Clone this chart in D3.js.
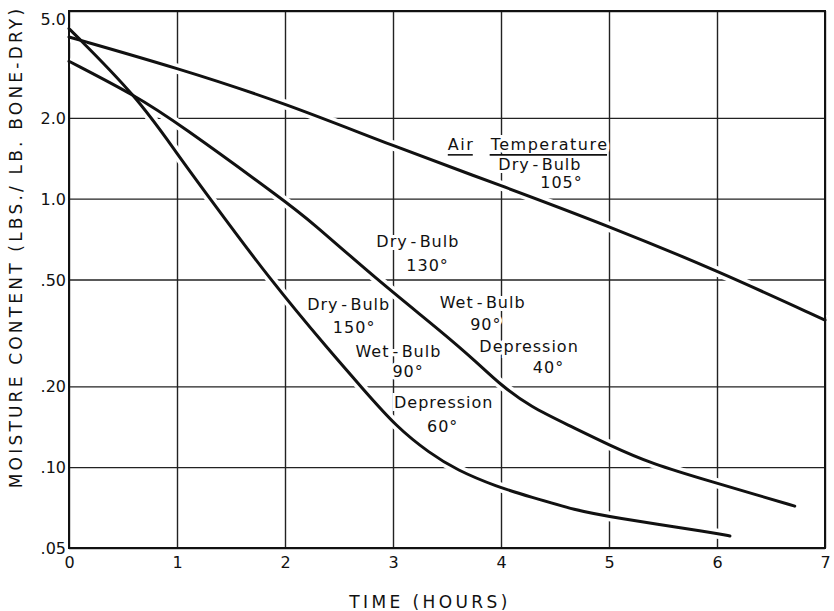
<!DOCTYPE html>
<html lang="en">
<head>
<meta charset="utf-8">
<title>Moisture content vs drying time</title>
<script src="https://cdn.jsdelivr.net/npm/d3@7"></script>
<style>
  body { margin: 0; background: #fff; }
  text { font-family: "DejaVu Sans", sans-serif; fill: #111; }
</style>
</head>
<body>
<div id="chart"></div>
<script>
// ticks
const hours = [0, 1, 2, 3, 4, 5, 6, 7];
const moistTicks = [5, 2, 1, 0.5, 0.2, 0.1, 0.05];
const moistLabels = ["5.0", "2.0", "1.0", ".50", ".20", ".10", ".05"];

// dry-bulb 105
const t105 = [0, 1, 2, 3, 4, 5, 6, 7];
const m105 = [4.0, 3.07, 2.27, 1.57, 1.12, 0.79, 0.54, 0.353];
// dry-bulb 130, wet-bulb 90
const t130 = [0, 0.63, 1, 2, 2.23, 2.85, 3.47, 3.78, 4.0, 4.27, 4.64, 5, 5.38, 6, 6.37, 6.72];
const m130 = [3.25, 2.4, 1.92, 0.98, 0.83, 0.5, 0.315, 0.245, 0.202, 0.168, 0.1424, 0.121, 0.1033, 0.0871, 0.0788, 0.0716];
// dry-bulb 150, wet-bulb 90
const t150 = [0, 0.63, 1, 1.29, 1.86, 2.42, 2.73, 3.03, 3.34, 3.59, 3.96, 4.27, 4.7, 5, 6, 6.12];
const m150 = [4.3, 2.4, 1.47, 1.02, 0.5, 0.269, 0.194, 0.1415, 0.1127, 0.0976, 0.0846, 0.0776, 0.069, 0.0654, 0.0567, 0.0554];

// annotations [text, t, m]
const notes = [
  ["Dry-Bulb", 4.36, 1.28], ["105°", 4.56, 1.10],
  ["Dry-Bulb", 3.23, 0.66], ["130°", 3.32, 0.54],
  ["Wet-Bulb", 3.83, 0.39], ["90°", 3.86, 0.324],
  ["Depression", 4.26, 0.268], ["40°", 4.44, 0.224],
  ["Dry-Bulb", 2.59, 0.385], ["150°", 2.64, 0.316],
  ["Wet-Bulb", 3.05, 0.257], ["90°", 3.14, 0.217],
  ["Depression", 3.47, 0.166], ["60°", 3.46, 0.135]
];
const heading = [["Air", 3.63, 1.52], ["Temperature", 4.45, 1.52]];

let w = 834;
let h = 611;
let mLeft = 69, mRight = 825, mTop = 11, mBottom = 548;

let xScale = d3.scaleLinear().domain([0, 7]).range([mLeft, mRight]);
let yScale = d3.scaleLog().domain([0.05, 5]).range([mBottom, mTop]);

let svg = d3.select("#chart")
  .append("svg")
  .attr("width", w)
  .attr("height", h);

// grid
svg.append("g")
  .attr("class", "grid")
  .attr("transform", "translate(0," + mBottom + ")")
  .call(d3.axisBottom(xScale).tickValues(hours).tickSize(-(mBottom - mTop)).tickFormat(""))
  .call(g => g.select(".domain").remove())
  .call(g => g.selectAll("line").attr("stroke", "#222").attr("stroke-width", 1.4));

svg.append("g")
  .attr("class", "grid")
  .attr("transform", "translate(" + mLeft + ",0)")
  .call(d3.axisLeft(yScale).tickValues(moistTicks).tickSize(-(mRight - mLeft)).tickFormat(""))
  .call(g => g.select(".domain").remove())
  .call(g => g.selectAll("line").attr("stroke", "#222").attr("stroke-width", 1.4));

let line = d3.line()
  .x(d => xScale(d[0]))
  .y(d => yScale(d[1]))
  .curve(d3.curveBasis);

let series = [d3.zip(t105, m105), d3.zip(t130, m130), d3.zip(t150, m150)];

// white halo under curves, breaks the grid like the drafted original
svg.append("g")
  .selectAll("path")
  .data(series)
  .enter()
  .append("path")
  .attr("d", line)
  .attr("fill", "none")
  .attr("stroke", "#fff")
  .attr("stroke-width", 10);

svg.append("rect")
  .attr("x", mLeft)
  .attr("y", mTop)
  .attr("width", mRight - mLeft)
  .attr("height", mBottom - mTop)
  .attr("fill", "none")
  .attr("stroke", "#111")
  .attr("stroke-width", 2);

svg.append("g")
  .selectAll("path")
  .data(series)
  .enter()
  .append("path")
  .attr("d", line)
  .attr("fill", "none")
  .attr("stroke", "#111")
  .attr("stroke-width", 3)
  .attr("stroke-linecap", "round");

// axes labels
svg.append("g")
  .attr("transform", "translate(" + mLeft + ",0)")
  .call(d3.axisLeft(yScale).tickValues(moistTicks).tickSize(0).tickPadding(3)
    .tickFormat((d, i) => moistLabels[i]))
  .call(g => g.select(".domain").remove())
  .call(g => g.selectAll("text")
    .attr("font-size", 16)
    .attr("font-family", "DejaVu Sans")
    .attr("fill", "#111")
    .attr("dy", (d, i) => i == 0 ? "0.85em" : "0.35em"));

svg.append("g")
  .attr("transform", "translate(0," + mBottom + ")")
  .call(d3.axisBottom(xScale).tickValues(hours).tickSize(0).tickPadding(9)
    .tickFormat(d3.format("d")))
  .call(g => g.select(".domain").remove())
  .call(g => g.selectAll("text")
    .attr("font-size", 16)
    .attr("font-family", "DejaVu Sans")
    .attr("fill", "#111"));

svg.append("text")
  .attr("x", 430)
  .attr("y", 608)
  .attr("text-anchor", "middle")
  .attr("font-size", 17)
  .attr("letter-spacing", 3.4)
  .text("TIME (HOURS)");

svg.append("text")
  .attr("transform", "translate(22,247) rotate(-90)")
  .attr("text-anchor", "middle")
  .attr("font-size", 17)
  .attr("letter-spacing", 3.2)
  .text("MOISTURE CONTENT (LBS./ LB. BONE-DRY)");

// curve notes, hyphen spaced out as in the lettering
let noteText = svg.append("g")
  .selectAll("text")
  .data(notes)
  .enter()
  .append("text")
  .attr("x", d => xScale(d[1]))
  .attr("y", d => yScale(d[2]))
  .attr("text-anchor", "middle")
  .attr("font-size", 16)
  .attr("letter-spacing", 1)
  .attr("stroke", "#fff")
  .attr("stroke-width", 6)
  .attr("paint-order", "stroke");

noteText.each(function (d) {
  let parts = d[0].split("-");
  let el = d3.select(this);
  parts.forEach((p, i) => {
    if (i > 0) el.append("tspan").attr("dx", 3).text("-");
    el.append("tspan").attr("dx", i > 0 ? 3 : 0).text(p);
  });
});

let head = svg.append("g");
heading.forEach(d => {
  let t = head.append("text")
    .attr("x", xScale(d[1]))
    .attr("y", yScale(d[2]))
    .attr("text-anchor", "middle")
    .attr("font-size", 16)
    .attr("letter-spacing", 1.5)
    .attr("stroke", "#fff")
    .attr("stroke-width", 6)
    .attr("paint-order", "stroke")
    .text(d[0]);
  let b = t.node().getBBox();
  head.append("line")
    .attr("x1", b.x)
    .attr("x2", b.x + b.width - 1.5)
    .attr("y1", yScale(d[2]) + 5)
    .attr("y2", yScale(d[2]) + 5)
    .attr("stroke", "#111")
    .attr("stroke-width", 1.6);
});
</script>
</body>
</html>
